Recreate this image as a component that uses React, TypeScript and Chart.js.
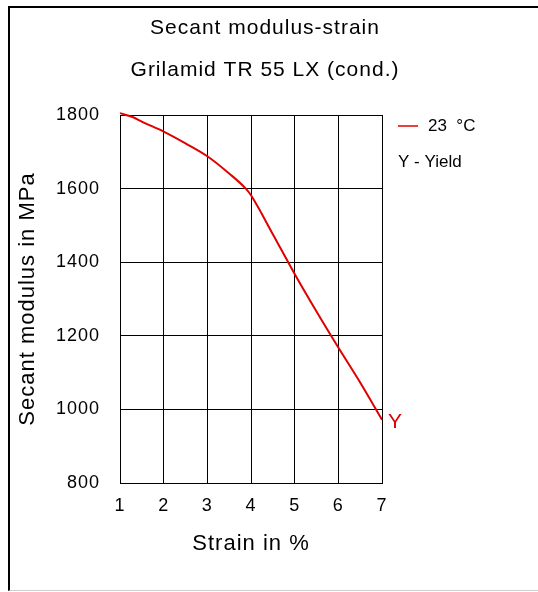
import { useEffect, useRef } from "react";
import { Chart, registerables } from "chart.js";

Chart.register(...registerables);

const TITLE_LINES = ["Secant modulus-strain", "Grilamid TR 55 LX (cond.)"];
const X_TITLE = "Strain in %";
const Y_TITLE = "Secant modulus in MPa";
const SERIES_LABEL = "23  °C";
const YIELD_NOTE = "Y - Yield";
const YIELD_MARK = "Y";

const strain = [1, 1.3, 1.5, 2, 2.5, 3, 3.5, 3.88, 4, 4.5, 5, 5.5, 6, 6.5, 7];
const modulus = [1805, 1794, 1782, 1755, 1723, 1688, 1641, 1600, 1582, 1476, 1368, 1266, 1168, 1073, 972];

const X_MIN = 1;
const X_MAX = 7;
const X_STEP = 1;
const Y_MIN = 800;
const Y_MAX = 1800;
const Y_STEP = 200;

const FONT = "'Liberation Sans', Arial, sans-serif";
const RED = "#e00000";

export default function App() {
  const ref = useRef<HTMLCanvasElement | null>(null);

  useEffect(() => {
    if (!ref.current) return;
    const extras = {
      id: "extras",
      beforeDraw(chart: any) {
        (chart.ctx as any).letterSpacing = "1px";
      },
      afterDraw(chart: any) {
        const ctx = chart.ctx;
        const area = chart.chartArea;
        const meta = chart.getDatasetMeta(0);
        const last = meta.data[meta.data.length - 1];
        ctx.save();
        // titles
        ctx.fillStyle = "#000";
        ctx.textAlign = "center";
        ctx.textBaseline = "middle";
        ctx.font = `21px ${FONT}`;
        (ctx as any).letterSpacing = "1px";
        TITLE_LINES.forEach((t, i) => ctx.fillText(t, chart.width / 2, 28 + i * 42));
        // yield mark at the last point
        (ctx as any).letterSpacing = "0px";
        ctx.fillStyle = RED;
        ctx.font = `21px ${FONT}`;
        ctx.textAlign = "left";
        ctx.fillText(YIELD_MARK, last.x + 6, last.y + 2);
        // legend
        const lx = area.right + 16;
        const ly = area.top + 11;
        ctx.strokeStyle = RED;
        ctx.lineWidth = 1.5;
        ctx.beginPath();
        ctx.moveTo(lx, ly);
        ctx.lineTo(lx + 20, ly);
        ctx.stroke();
        ctx.fillStyle = "#000";
        ctx.font = `17px ${FONT}`;
        ctx.fillText(SERIES_LABEL, lx + 30, ly);
        ctx.fillText(YIELD_NOTE, lx, ly + 36);
        ctx.restore();
      },
    };

    const chart = new Chart(ref.current, {
      type: "line",
      data: {
        datasets: [
          {
            label: SERIES_LABEL,
            data: strain.map((x, i) => ({ x, y: modulus[i] })),
            borderColor: RED,
            borderWidth: 2,
            pointRadius: 0,
            fill: false,
            clip: false,
            cubicInterpolationMode: "monotone",
          },
        ],
      },
      options: {
        responsive: false,
        animation: false,
        devicePixelRatio: 1,
        layout: { padding: { left: 0, right: 148, top: 115, bottom: 35 } },
        plugins: {
          legend: { display: false },
          tooltip: { enabled: false },
          title: { display: false },
        },
        scales: {
          x: {
            type: "linear",
            min: X_MIN,
            max: X_MAX,
            ticks: {
              stepSize: X_STEP,
              color: "#000",
              padding: 12,
              font: { family: FONT, size: 18 },
              callback: (v: any) => String(v),
            },
            grid: { color: "#000", lineWidth: 1, drawTicks: false },
            border: { color: "#000", width: 1 },
            title: {
              display: true,
              text: X_TITLE,
              color: "#000",
              font: { family: FONT, size: 22 },
              padding: { top: 0, bottom: 0 },
            },
            afterFit(scale: any) {
              scale.height = 74;
            },
          },
          y: {
            type: "linear",
            min: Y_MIN,
            max: Y_MAX,
            ticks: {
              stepSize: Y_STEP,
              color: "#000",
              padding: 20,
              font: { family: FONT, size: 18 },
              callback: (v: any) => String(v),
            },
            grid: { color: "#000", lineWidth: 1, drawTicks: false },
            border: { color: "#000", width: 1 },
            title: {
              display: true,
              text: Y_TITLE,
              color: "#000",
              font: { family: FONT, size: 22 },
              padding: { top: 15, bottom: 0 },
            },
            afterFit(scale: any) {
              scale.width = 120;
            },
          },
        },
      },
      plugins: [extras],
    } as any);
    return () => chart.destroy();
  }, []);

  return (
    <div style={{ position: "absolute", left: 0, top: 0, width: 538, height: 592, overflow: "hidden", background: "#fff" }}>
      <div
        style={{
          position: "absolute",
          left: 8,
          top: 6,
          width: 560,
          height: 582,
          borderTop: "2px solid #000",
          borderLeft: "2px solid #000",
          borderBottom: "1px solid #cfcfcf",
        }}
      />
      <canvas ref={ref} width={530} height={592} style={{ position: "absolute", left: 0, top: 0 }} />
    </div>
  );
}
